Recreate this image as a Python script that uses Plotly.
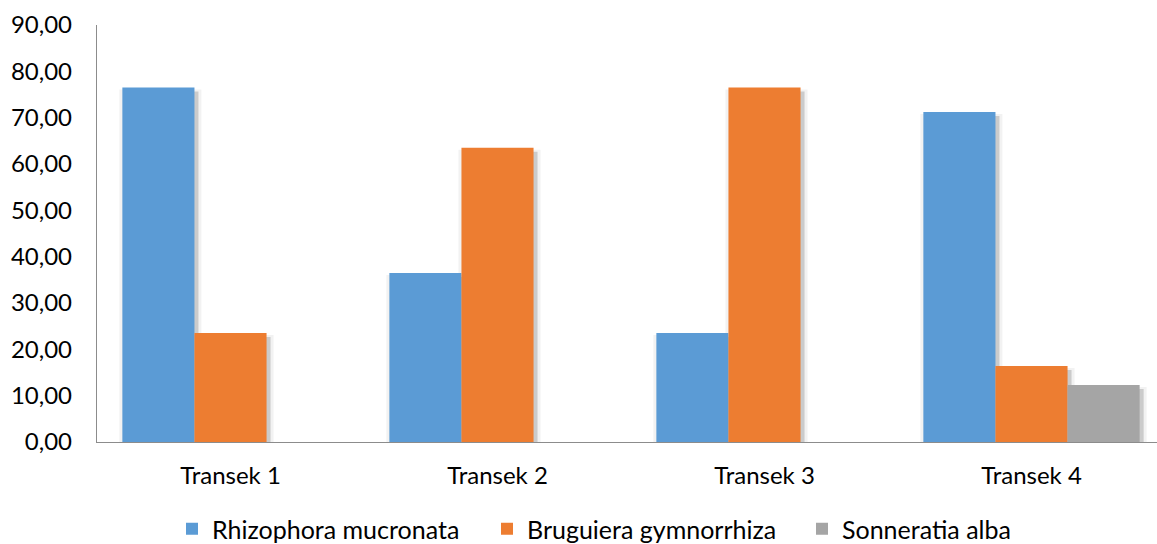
import plotly.graph_objects as go

categories = ["Transek 1", "Transek 2", "Transek 3", "Transek 4"]
rhizophora = [76.5, 36.5, 23.5, 71.2]
bruguiera = [23.5, 63.5, 76.5, 16.4]
sonneratia = [0.0, 0.0, 0.0, 12.3]
series_names = ["Rhizophora mucronata", "Bruguiera gymnorrhiza", "Sonneratia alba"]
y_ticks = [0, 10, 20, 30, 40, 50, 60, 70, 80, 90]

colors = ["#5B9BD5", "#ED7D31", "#A5A5A5"]
series = [rhizophora, bruguiera, sonneratia]

FONT = "Lato"
FS = 24
bar_w = 0.27
px = 1 / 267.0  # one pixel in category units (approx.)
py = 90 / 417.0  # one pixel in value units (approx.)

fig = go.Figure()

# soft shadows (drawn first, beneath the bars)
for i, vals in enumerate(series):
    off = -1.5 * bar_w + i * bar_w
    fig.add_trace(go.Bar(
        x=categories, y=vals, base=-2 * py,
        offset=off - 3 * px, width=bar_w + 10 * px,
        marker=dict(color="rgba(0,0,0,0.05)", line=dict(width=0)),
        showlegend=False, hoverinfo="skip"))
    fig.add_trace(go.Bar(
        x=categories, y=vals, base=-4 * py,
        offset=off + 4 * px, width=bar_w,
        marker=dict(color="rgba(0,0,0,0.16)", line=dict(width=0)),
        showlegend=False, hoverinfo="skip"))

for i, (name, vals) in enumerate(zip(series_names, series)):
    off = -1.5 * bar_w + i * bar_w
    fig.add_trace(go.Bar(
        x=categories, y=vals, name=name,
        offset=off, width=bar_w,
        marker=dict(color=colors[i], line=dict(width=0))))

fig.update_layout(
    width=1157, height=544,
    barmode="overlay",
    separators=",.",
    paper_bgcolor="white", plot_bgcolor="white",
    margin=dict(l=97, r=0, t=25, b=102, autoexpand=False),
    font=dict(family=FONT, size=FS, color="#000000"),
    showlegend=True,
    legend=dict(
        orientation="h", xref="container", yref="container",
        x=172 / 1157, xanchor="left", y=15 / 544, yanchor="middle",
        entrywidth=270, entrywidthmode="pixels",
        font=dict(family=FONT, size=25, color="#000000"),
        traceorder="normal", bgcolor="rgba(0,0,0,0)"),
)

fig.update_xaxes(
    range=[-0.5, 3.5 - 8 / 267.0], automargin=False,
    showline=True, linecolor="#8C8C8C", linewidth=1.3,
    showgrid=False, ticks="", zeroline=False,
    ticklabelstandoff=12,
    tickfont=dict(family=FONT, size=FS, color="#000000"))
fig.update_yaxes(
    range=[0, 90], tickvals=y_ticks, tickformat=".2f", automargin=False,
    showline=True, linecolor="#8C8C8C", linewidth=1.3,
    showgrid=False, ticks="", zeroline=False,
    ticklabelstandoff=19,
    tickfont=dict(family=FONT, size=FS, color="#000000"))

fig.write_html("out.html", config={"displayModeBar": False},
               post_script="document.body.style.margin='0';")
